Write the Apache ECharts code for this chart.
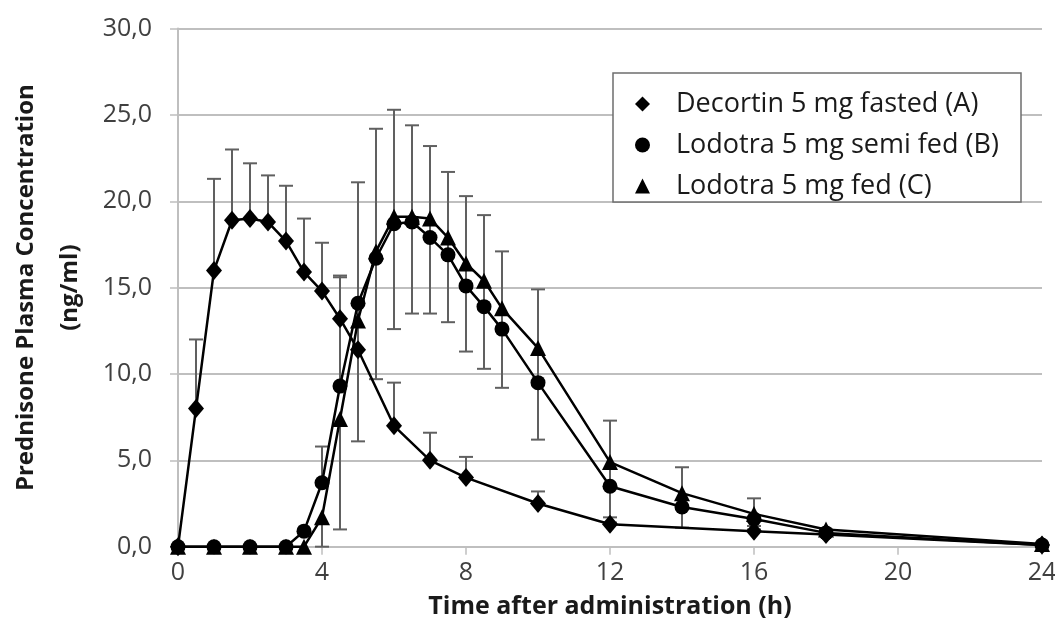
<!DOCTYPE html>
<html>
<head>
<meta charset="utf-8">
<script src="https://cdn.jsdelivr.net/npm/echarts@6/dist/echarts.min.js"></script>
<style>
  html, body { margin: 0; padding: 0; background: #fff; }
  #chart { width: 1055px; height: 638px; }
</style>
</head>
<body>
<div id="chart"></div>
<script>
// sampling times (h)
const timesA = [0, 0.5, 1, 1.5, 2, 2.5, 3, 3.5, 4, 4.5, 5, 6, 7, 8, 10, 12, 16, 18, 24];
const timesBC = [0, 1, 2, 3, 3.5, 4, 4.5, 5, 5.5, 6, 6.5, 7, 7.5, 8, 8.5, 9, 10, 12, 14, 16, 18, 24];

// mean concentration (ng/ml)
const decortinA = [0, 8.0, 16.0, 18.9, 19.0, 18.8, 17.7, 15.9, 14.8, 13.2, 11.4, 7.0, 5.0, 4.0, 2.5, 1.3, 0.9, 0.7, 0.1];
const lodotraB = [0, 0, 0, 0, 0.9, 3.7, 9.3, 14.1, 16.7, 18.7, 18.8, 17.9, 16.9, 15.1, 13.9, 12.6, 9.5, 3.5, 2.3, 1.6, 0.8, 0.1];
const lodotraC = [0, 0, 0, 0, 0, 1.7, 7.4, 13.1, 17.1, 19.1, 19.1, 19.0, 17.9, 16.4, 15.4, 13.8, 11.5, 4.9, 3.1, 1.9, 1.0, 0.15];

// SD error bars: A upward, B upward, C downward
const sdA = [0, 4.0, 5.3, 4.1, 3.2, 2.7, 3.2, 3.1, 2.8, 2.4, 2.7, 2.5, 1.6, 1.2, 0.7, 0.4, 0.3, 0.2, 0];
const sdB = [0, 0, 0, 0, 0, 2.1, 6.4, 7.0, 7.5, 6.6, 5.6, 5.3, 4.8, 5.2, 5.3, 4.5, 5.4, 3.8, 2.3, 1.2, 0.2, 0];
const sdC = [0, 0, 0, 0, 0, 1.7, 6.4, 7.0, 7.4, 6.5, 5.6, 5.5, 4.9, 5.1, 5.1, 4.6, 5.3, 3.5, 2.0, 0.9, 0.2, 0];

const yTicks = [0, 5, 10, 15, 20, 25, 30];
const xTicks = [0, 4, 8, 12, 16, 20, 24];

const names = ["Decortin 5 mg fasted (A)", "Lodotra 5 mg semi fed (B)", "Lodotra 5 mg fed (C)"];

const FONT = "Open Sans";

const chart = echarts.init(document.getElementById("chart"));

const pairs = (xs, ys) => xs.map((x, i) => [x, ys[i]]);
// [time, mean, signed sd]
const errData = (xs, ys, sd, sign) =>
  xs.map((x, i) => [x, ys[i], sign * sd[i]]).filter((d) => d[2] !== 0);

const errRender = (params, api) => {
  const x = api.value(0);
  const v = api.value(1);
  const d = api.value(2);
  const p0 = api.coord([x, v]);
  const p1 = api.coord([x, v + d]);
  const w = 7;
  const st = { stroke: "#606060", lineWidth: 2 };
  return {
    type: "group",
    children: [
      { type: "line", shape: { x1: p0[0], y1: p0[1], x2: p1[0], y2: p1[1] }, style: st },
      { type: "line", shape: { x1: p1[0] - w, y1: p1[1], x2: p1[0] + w, y2: p1[1] }, style: st },
    ],
  };
};

const lineSeries = (name, xs, ys, symbol, size) => ({
  name,
  type: "line",
  data: pairs(xs, ys),
  symbol,
  symbolSize: size,
  showAllSymbol: true,
  lineStyle: { color: "#000", width: 2.5 },
  itemStyle: { color: "#000" },
  z: 5,
  animation: false,
});

const errSeries = (data) => ({
  type: "custom",
  renderItem: errRender,
  data,
  encode: { x: 0, y: 1 },
  z: 2,
  silent: true,
  animation: false,
});

chart.setOption({
  backgroundColor: "#fff",
  animation: false,
  textStyle: { fontFamily: FONT },
  grid: { left: 178, right: 13, top: 28.6, bottom: 91.3, outerBoundsMode: "none", containLabel: false },
  // legend frame (text spills past its right edge, as in the original)
  graphic: [
    {
      type: "rect",
      z: 1,
      shape: { x: 613, y: 73, width: 408, height: 129 },
      style: { fill: "#fff", stroke: "#6e6e6e", lineWidth: 1.5 },
    },
  ],
  legend: {
    orient: "vertical",
    left: 635,
    top: 89,
    padding: 0,
    itemGap: 11,
    itemWidth: 15,
    itemHeight: 15,
    z: 4,
    textStyle: { fontFamily: FONT, fontSize: 27, color: "#1a1a1a", lineHeight: 30, padding: [0, 0, 0, 21] },
    data: [
      { name: names[0], icon: "diamond" },
      { name: names[1], icon: "circle" },
      { name: names[2], icon: "triangle" },
    ],
  },
  xAxis: {
    type: "value",
    min: xTicks[0],
    max: xTicks[xTicks.length - 1],
    interval: 4,
    name: "Time after administration (h)",
    nameLocation: "middle",
    nameGap: 48,
    nameTextStyle: { fontFamily: FONT, fontSize: 25, fontWeight: "bold", color: "#1a1a1a" },
    axisLine: { show: true, lineStyle: { color: "#bfbfbf", width: 2 } },
    axisTick: { show: true, length: 8, lineStyle: { color: "#bfbfbf", width: 1.5 } },
    axisLabel: { fontFamily: FONT, fontSize: 25, color: "#404040", margin: 14 },
    splitLine: { show: false },
  },
  yAxis: {
    type: "value",
    min: yTicks[0],
    max: yTicks[yTicks.length - 1],
    interval: 5,
    name: "Prednisone Plasma Concentration\n(ng/ml)",
    nameLocation: "middle",
    nameGap: 84,
    nameTextStyle: { fontFamily: FONT, fontSize: 24, fontWeight: "bold", color: "#1a1a1a", lineHeight: 44 },
    axisLine: { show: true, lineStyle: { color: "#bfbfbf", width: 2 } },
    axisTick: { show: true, length: 8, lineStyle: { color: "#bfbfbf", width: 1.5 } },
    axisLabel: {
      fontFamily: FONT,
      fontSize: 25,
      color: "#404040",
      margin: 26,
      formatter: (v) => v.toFixed(1).replace(".", ","),
    },
    splitLine: { show: true, lineStyle: { color: "#bfbfbf", width: 2 } },
  },
  series: [
    errSeries(errData(timesA, decortinA, sdA, 1)),
    errSeries(errData(timesBC, lodotraB, sdB, 1)),
    errSeries(errData(timesBC, lodotraC, sdC, -1)),
    lineSeries(names[0], timesA, decortinA, "diamond", [16, 19]),
    lineSeries(names[1], timesBC, lodotraB, "circle", 15),
    lineSeries(names[2], timesBC, lodotraC, "triangle", 16),
  ],
});
</script>
</body>
</html>
